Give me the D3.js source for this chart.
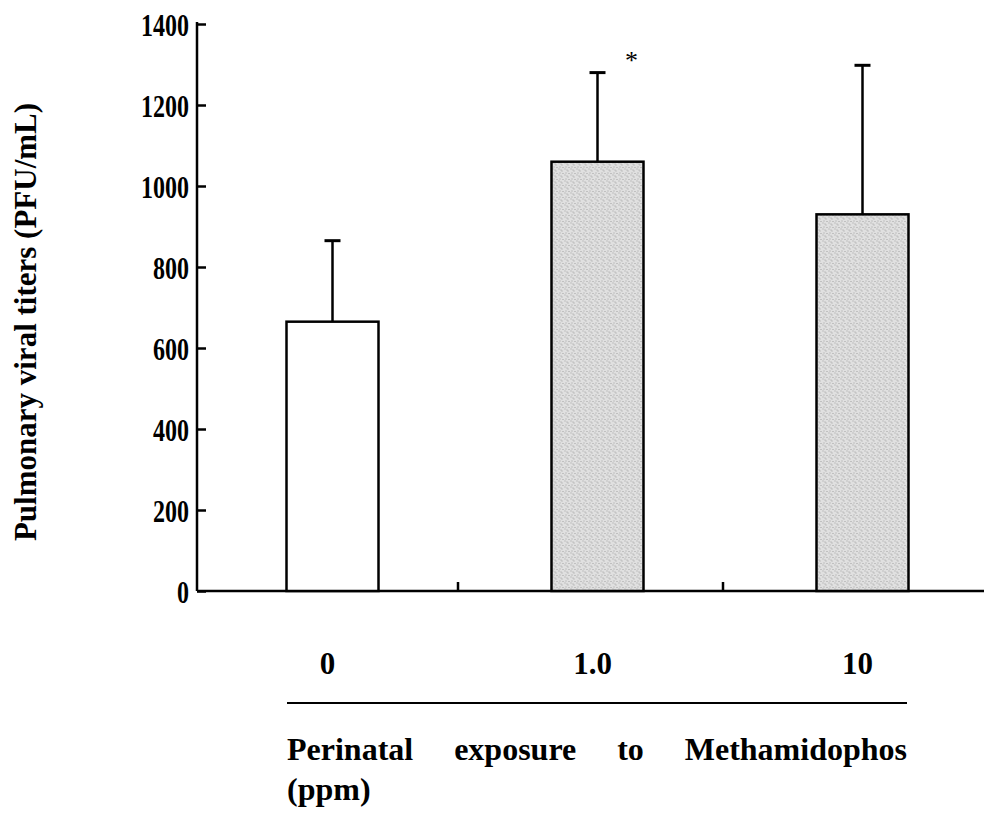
<!DOCTYPE html>
<html>
<head>
<meta charset="utf-8">
<script src="https://cdn.jsdelivr.net/npm/d3@7"></script>
<style>
  html, body { margin: 0; padding: 0; background: #fff; }
  svg { display: block; }
  text { font-family: "Liberation Serif", "Times New Roman", serif; font-weight: bold; fill: #000; }
</style>
</head>
<body>
<svg id="chart" width="984" height="817"></svg>
<script>
// Methamidophos dose groups (ppm) and pulmonary viral titers
const categories = ["0", "1.0", "10"];
const meanTiter = [665, 1060, 930];
const sdTiter = [200, 220, 368];
const significant = [false, true, false];
const yTicks = [0, 200, 400, 600, 800, 1000, 1200, 1400];
const yTitle = "Pulmonary viral titers (PFU/mL)";
const xTitleWords = ["Perinatal", "exposure", "to", "Methamidophos"];
const xTitleUnit = "(ppm)";

// tick numbers are set tall and narrow
const tickStretch = 1.35;

const svg = d3.select("#chart");

const y = d3.scaleLinear().domain([0, 1400]).range([591, 24]);
// dose groups divide the x axis into equal sections
const xGroup = d3.scaleBand().domain(categories).range([193, 988]).padding(0);
const barWidth = 92;
const barShift = 7;

// stippled grey fill for the treated groups
const defs = svg.append("defs");
const pat = defs.append("pattern")
  .attr("id", "stipple").attr("patternUnits", "userSpaceOnUse")
  .attr("width", 6).attr("height", 6);
pat.append("rect").attr("width", 6).attr("height", 6).attr("fill", "#e0e0e0");
[[0.5, 0.5], [3.5, 2.5], [1.5, 4.5], [4.5, 5.0], [2.5, 1.5]].forEach(([cx, cy]) =>
  pat.append("rect").attr("x", cx).attr("y", cy).attr("width", 1).attr("height", 1).attr("fill", "#a0a0a0"));

// y axis with inward ticks
const yAxis = d3.axisLeft(y).tickValues(yTicks).tickSize(-9).tickPadding(8).tickFormat(d3.format("d"));
const gy = svg.append("g").attr("transform", "translate(197,0)").call(yAxis);
gy.select(".domain").attr("stroke", "#000").attr("stroke-width", 2.5).attr("d", `M0,${y(1400) - 2}V${y(0)}`);
gy.selectAll(".tick line").attr("stroke", "#000").attr("stroke-width", 2.5);
gy.selectAll(".tick text").style("font-size", "24px").attr("dy", "0.34em")
  .attr("transform", `scale(1,${tickStretch})`)
  .style("font-family", "'Liberation Serif', serif").style("font-weight", "bold");

// x axis baseline and group dividers
svg.append("line").attr("x1", 197).attr("x2", 984).attr("y1", y(0)).attr("y2", y(0))
  .attr("stroke", "#000").attr("stroke-width", 2.5);
svg.selectAll(".divider").data(categories.slice(1)).enter().append("line")
  .attr("class", "divider")
  .attr("x1", d => xGroup(d)).attr("x2", d => xGroup(d))
  .attr("y1", y(0)).attr("y2", y(0) - 9)
  .attr("stroke", "#000").attr("stroke-width", 2.5);

// bars
const data = categories.map((c, i) => ({ c, m: meanTiter[i], sd: sdTiter[i], sig: significant[i], i }));
const barX = d => xGroup(d.c) + xGroup.bandwidth() / 2 + barShift;

// error bars (upper only)
svg.selectAll(".err").data(data).enter().append("line")
  .attr("x1", barX).attr("x2", barX)
  .attr("y1", d => y(d.m)).attr("y2", d => y(d.m + d.sd))
  .attr("stroke", "#000").attr("stroke-width", 2.5);
svg.selectAll(".cap").data(data).enter().append("line")
  .attr("x1", d => barX(d) - 8).attr("x2", d => barX(d) + 8)
  .attr("y1", d => y(d.m + d.sd)).attr("y2", d => y(d.m + d.sd))
  .attr("stroke", "#000").attr("stroke-width", 3);

svg.selectAll(".bar").data(data).enter().append("rect")
  .attr("x", d => barX(d) - barWidth / 2)
  .attr("width", barWidth)
  .attr("y", d => y(d.m))
  .attr("height", d => y(0) - y(d.m))
  .attr("fill", d => d.i === 0 ? "#fff" : "url(#stipple)")
  .attr("stroke", "#000").attr("stroke-width", 2.5);

// significance marker
svg.selectAll(".sig").data(data.filter(d => d.sig)).enter().append("text")
  .attr("x", d => barX(d) + 34).attr("y", d => y(d.m + d.sd) - 4)
  .attr("text-anchor", "middle")
  .style("font-size", "26px").style("font-weight", "normal")
  .text("*");

// dose labels
svg.selectAll(".xlab").data(categories).enter().append("text")
  .attr("x", d => xGroup(d) + xGroup.bandwidth() / 2 + 2)
  .attr("y", 674)
  .attr("text-anchor", "middle")
  .style("font-size", "31px")
  .text(d => d);

// rule under dose labels
const ruleLeft = 287, ruleRight = 907;
svg.append("line").attr("x1", ruleLeft).attr("x2", ruleRight).attr("y1", 703).attr("y2", 703)
  .attr("stroke", "#000").attr("stroke-width", 2);

// justified axis title spanning the rule
const words = svg.append("g").selectAll("text").data(xTitleWords).enter().append("text")
  .attr("y", 760).style("font-size", "32px").text(d => d);
const widths = [];
words.each(function () { widths.push(this.getComputedTextLength()); });
const gap = (ruleRight - ruleLeft - d3.sum(widths)) / (xTitleWords.length - 1);
let cursor = ruleLeft;
words.attr("x", (d, i) => { const x0 = cursor; cursor += widths[i] + gap; return x0; });
svg.append("text").attr("x", ruleLeft).attr("y", 800)
  .style("font-size", "32px").text(xTitleUnit);

// y axis title
svg.append("text")
  .attr("transform", "translate(36,322) rotate(-90)")
  .attr("text-anchor", "middle").style("font-size", "31px")
  .text(yTitle);
</script>
</body>
</html>
